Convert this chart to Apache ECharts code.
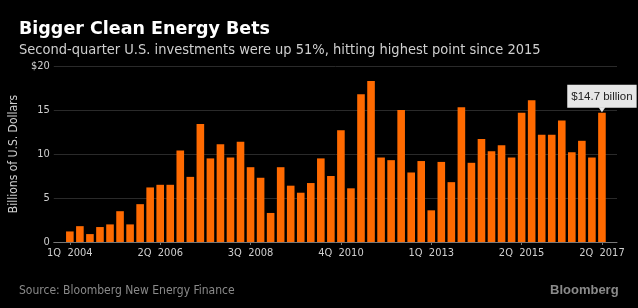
<!DOCTYPE html>
<html>
<head>
<meta charset="utf-8">
<script src="https://cdn.jsdelivr.net/npm/echarts@6/dist/echarts.min.js"></script>
<style>
  html, body { margin: 0; padding: 0; background: #000; }
  #main { width: 638px; height: 308px; }
</style>
</head>
<body>
<div id="main"></div>
<script type="text/javascript">
// quarters 1Q 2004 .. 2Q 2017
var quarters = [];
for (var y = 2004; y <= 2017; y++) {
  for (var q = 1; q <= 4; q++) {
    if (y === 2017 && q > 2) break;
    quarters.push(q + 'Q  ' + y);
  }
}
// billions of U.S. dollars
var investments = [1.2, 1.8, 0.9, 1.7, 2.0, 3.5, 2.0, 4.3, 6.2, 6.5, 6.5, 10.4,
  7.4, 13.4, 9.5, 11.1, 9.6, 11.4, 8.5, 7.3, 3.3, 8.5, 6.4, 5.6,
  6.7, 9.5, 7.5, 12.7, 6.1, 16.8, 18.3, 9.6, 9.3, 15.0, 7.9, 9.2,
  3.6, 9.1, 6.8, 15.3, 9.0, 11.7, 10.3, 11.0, 9.6, 14.7, 16.1, 12.2,
  12.2, 13.8, 10.2, 11.5, 9.6, 14.7];
var tickIndex = [0, 9, 18, 27, 36, 45, 53];
var yTicks = [0, 5, 10, 15, 20];
var calloutText = '$14.7 billion';

var chart = echarts.init(document.getElementById('main'));

var lastIdx = investments.length - 1;
var barData = investments.map(function (v, i) {
  if (i === lastIdx) {
    return {
      value: [i, v],
      label: {
        show: true,
        position: 'top',
        distance: 5,
        formatter: calloutText,
        backgroundColor: '#e6e6e6',
        color: '#222',
        fontFamily: 'Liberation Sans',
        fontSize: 11.5,
        padding: [6, 4, 5, 4]
      }
    };
  }
  return [i, v];
});

chart.setOption({
  backgroundColor: '#000',
  animation: false,
  title: [{
    text: 'Bigger Clean Energy Bets',
    left: 14, top: 15,
    textStyle: { color: '#fff', fontSize: 17.5, fontWeight: 'bold', fontFamily: 'DejaVu Sans' }
  }, {
    text: 'Second-quarter U.S. investments were up 51%, hitting highest point since 2015',
    left: 14, top: 38,
    textStyle: { color: '#cfcfcf', fontSize: 14.5, fontWeight: 'normal', fontFamily: 'DejaVu Sans Condensed' }
  }, {
    text: 'Source: Bloomberg New Energy Finance',
    left: 14, top: 280,
    textStyle: { color: '#8a8a8a', fontSize: 12, fontWeight: 'normal', fontFamily: 'DejaVu Sans Condensed' }
  }, {
    text: 'Bloomberg',
    left: 545, top: 279,
    textStyle: { color: '#8a8a8a', fontSize: 13, fontWeight: 'bold', fontFamily: 'Liberation Sans' }
  }],
  grid: { left: 48, right: 21, top: 66, bottom: 66 },
  xAxis: {
    type: 'value',
    min: -1.6,
    max: 54.5,
    splitLine: { show: false },
    axisLine: { show: true, onZero: true, lineStyle: { color: '#777', width: 1 } },
    axisTick: { show: true, customValues: tickIndex, length: 3, lineStyle: { color: '#777' } },
    axisLabel: {
      customValues: tickIndex,
      color: '#cfcfcf',
      fontSize: 11,
      fontFamily: 'DejaVu Sans Condensed',
      margin: 6,
      formatter: function (v) { return quarters[v]; }
    }
  },
  yAxis: {
    type: 'value',
    min: 0, max: 20, interval: 5,
    name: 'Billions of U.S. Dollars',
    nameLocation: 'middle',
    nameGap: 28,
    nameTextStyle: { color: '#cfcfcf', fontSize: 12, fontFamily: 'DejaVu Sans Condensed' },
    axisLine: { show: false },
    axisTick: { show: false },
    splitLine: { lineStyle: { color: '#2a2a2a', width: 1 } },
    axisLabel: {
      color: '#cfcfcf',
      fontSize: 11,
      fontFamily: 'DejaVu Sans Condensed',
      margin: 4,
      formatter: function (v) { return v === yTicks[yTicks.length - 1] ? '$' + v : v; }
    }
  },
  series: [{
    type: 'bar',
    data: barData,
    barWidth: 7.6,
    itemStyle: { color: '#ff6a00' },
    markPoint: {
      data: [{ coord: [lastIdx, investments[lastIdx]] }],
      symbol: 'triangle',
      symbolRotate: 180,
      symbolSize: [7, 5],
      symbolOffset: [0, -3],
      itemStyle: { color: '#e6e6e6' },
      label: { show: false }
    }
  }]
});
</script>
</body>
</html>
